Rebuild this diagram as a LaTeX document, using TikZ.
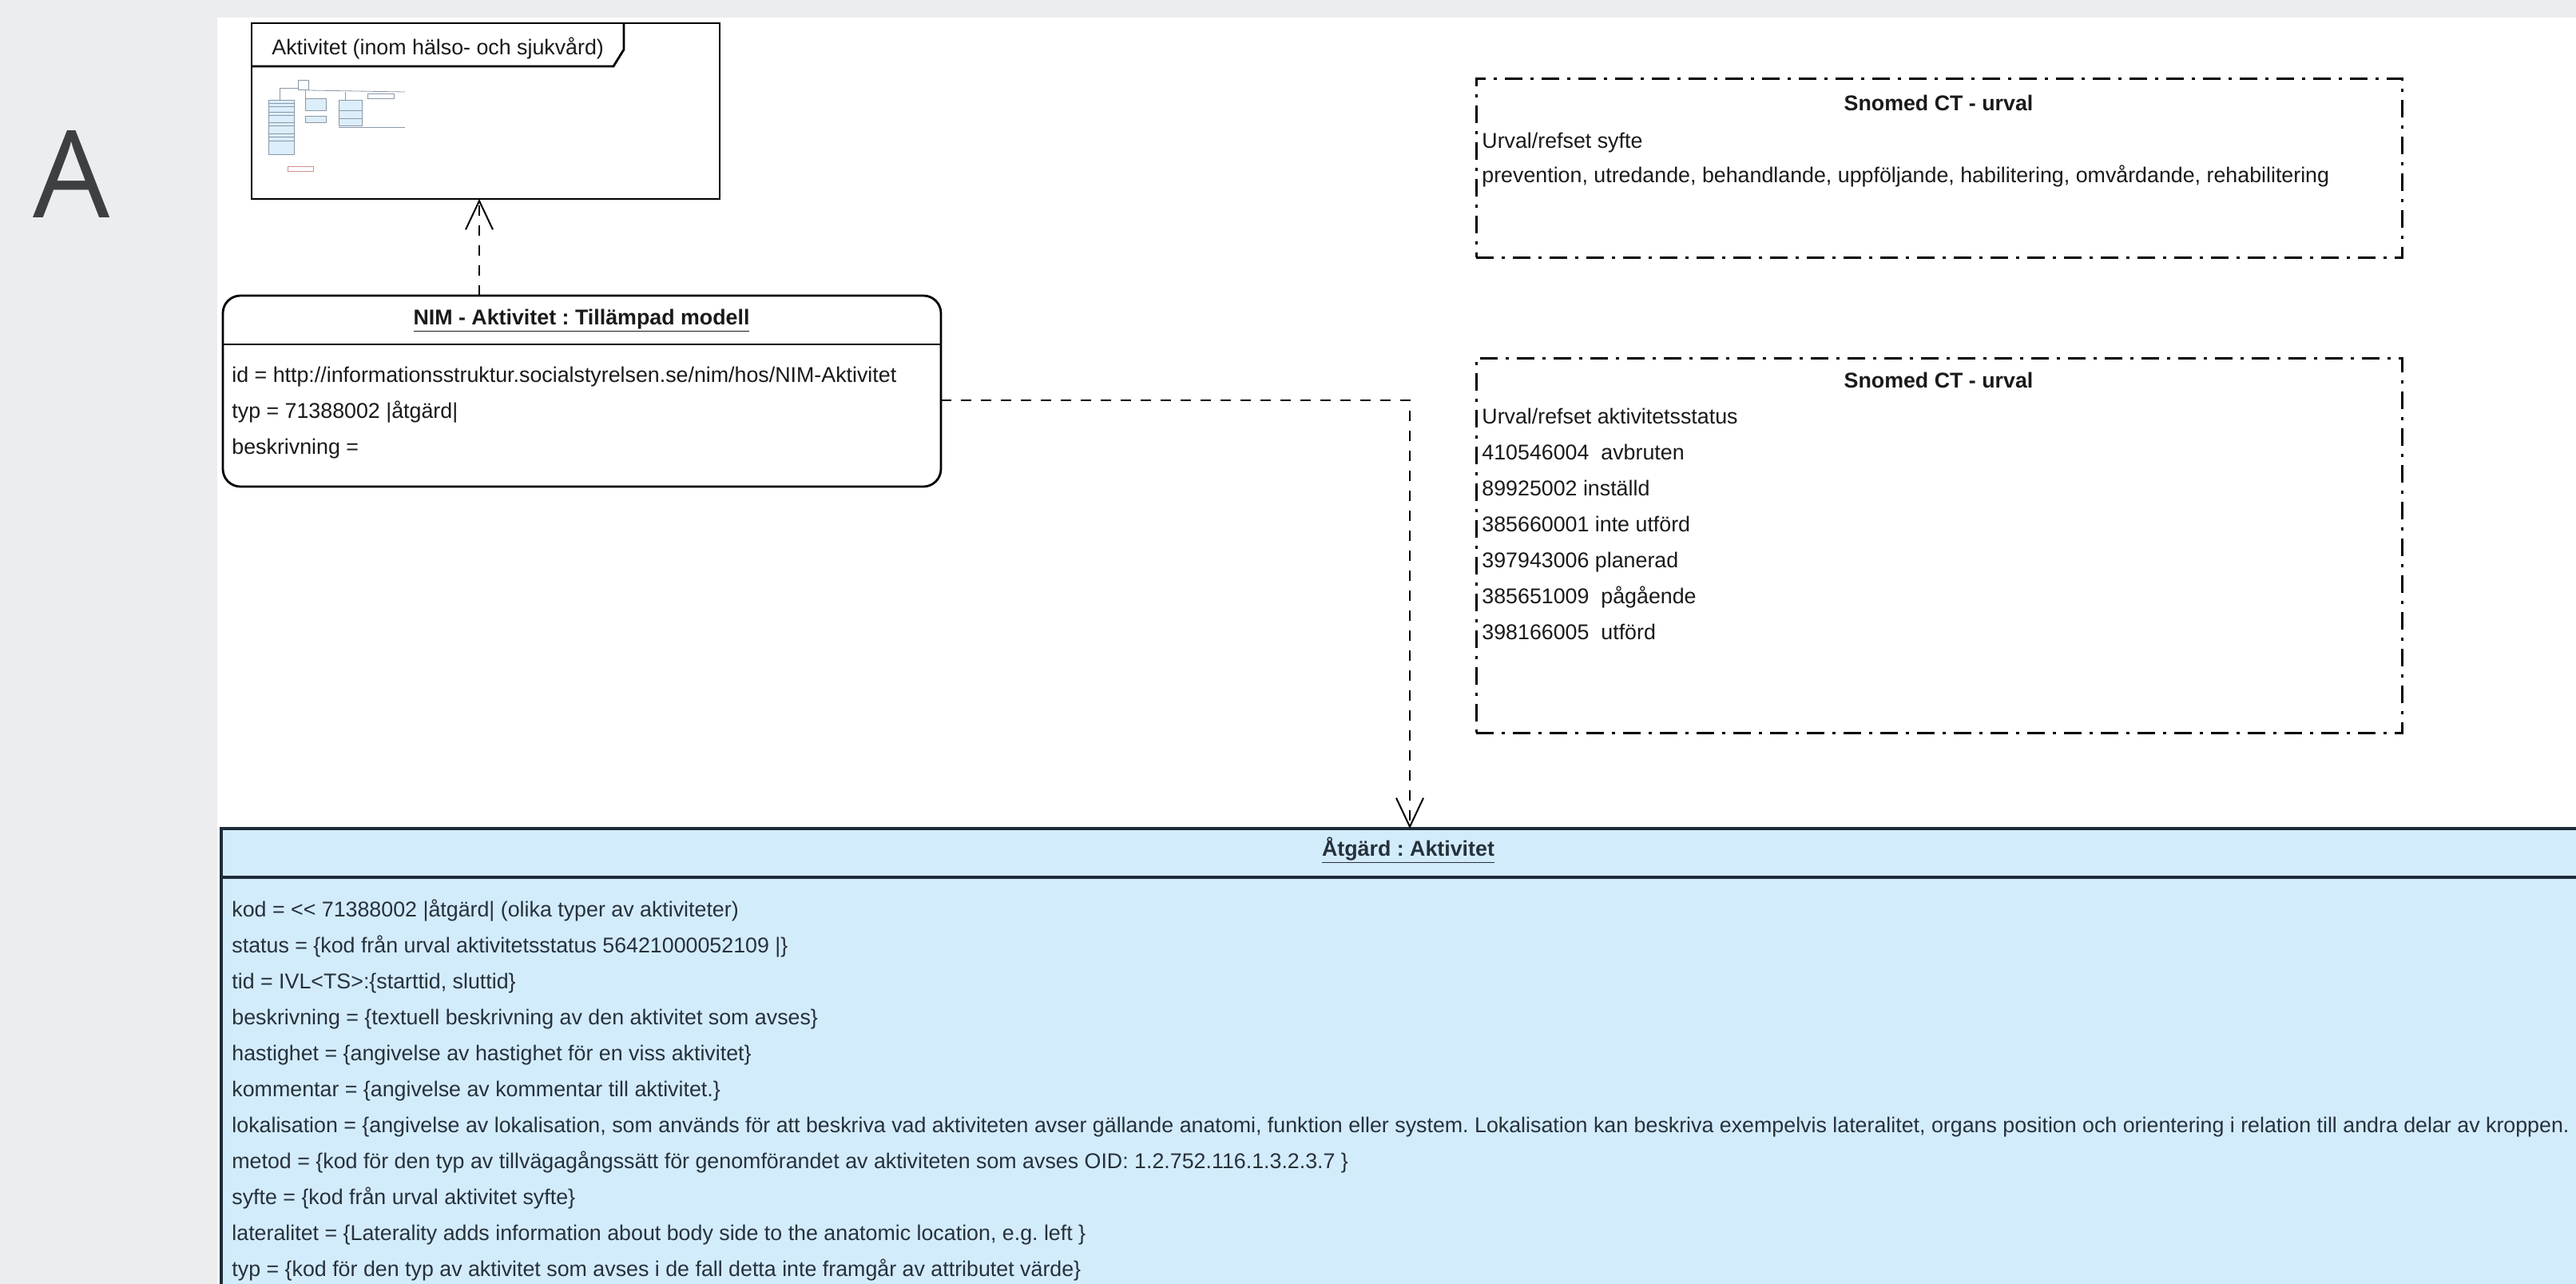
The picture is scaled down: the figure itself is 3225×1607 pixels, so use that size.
\documentclass[tikz,border=0pt]{standalone}
\usepackage{fontspec}
\setmainfont{Liberation Sans}
\newfontfamily\bigAfont{Open Sans}
\usetikzlibrary{arrows.meta}
\definecolor{bggray}{HTML}{ECEDEF}
\definecolor{atgfill}{HTML}{D3ECFB}
\definecolor{atgline}{HTML}{1E2B38}
\definecolor{txtc}{HTML}{1A1A1A}
\definecolor{atgtxt}{HTML}{27313C}
\definecolor{letterc}{HTML}{3C4043}
\definecolor{thumbc}{HTML}{8A97A8}
\definecolor{thumbfill}{HTML}{DCEEFA}
\definecolor{thumbred}{HTML}{D39090}
\tikzset{
 boxbase/.style={draw, inner sep=0pt, outer sep=0pt, anchor=north west},
 pkgbox/.style={boxbase, line width=1.4pt, fill=white},
 nimbox/.style={boxbase, line width=1.4pt, rounded corners=11pt, fill=white},
 atgbox/.style={boxbase, draw=atgline, line width=1.8pt, fill=atgfill},
 snbox/.style={boxbase, line width=1.5pt, dash pattern=on 11pt off 5pt on 2pt off 5pt},
 txt/.style={font=\fontsize{13.4}{16}\selectfont\frenchspacing, text=txtc, inner sep=0pt, anchor=base west},
 atxt/.style={txt, text=atgtxt},
 ttl/.style={font=\fontsize{13.4}{16}\selectfont\bfseries\frenchspacing, text=txtc, inner sep=0pt, anchor=base},
 dep/.style={line width=1.2pt, dash pattern=on 6.5pt off 6pt, -{Straight Barb[length=18pt,width=17pt,line width=1pt]}},
 thumb/.style={draw=thumbc, line width=0.4pt},
}
\begin{document}
\frenchspacing
\begin{tikzpicture}[x=0.5pt,y=-0.5pt]
\useasboundingbox (0,0) rectangle (3225,1607);
\clip (0,0) rectangle (3225,1607);
\fill[bggray] (0,0) rectangle (3225,1607);
\fill[white] (272,22) rectangle (3225,1607);

\node[font=\bigAfont\fontsize{76}{80}\selectfont, text=letterc, anchor=base, inner sep=0pt] (lettera) at (90,272) {A};

% package frame
\node[pkgbox, minimum width=293pt, minimum height=110pt] (pkg) at (315,29) {};
\draw[line width=1.4pt] (pkg.west |- 0,83) -- (768,83) -- (781,62) -- (781,29);
\node[txt] (pkgtitle) at (340,68) {Aktivitet (inom hälso- och sjukvård)};
\begin{scope}[thumb]
\draw (350,110) -- (373,110);
\draw[fill=white] (373,100) rectangle (386,112);
\draw (386,113) -- (507,115);
\draw (350,110) -- (350,125);
\draw[fill=thumbfill] (336,125) rectangle (368,193);
\foreach \yy in {129,133,140,144,153,157,167,171,176} \draw (336,\yy) -- (368,\yy);
\draw (382,113) -- (382,123);
\draw[fill=thumbfill] (382,123) rectangle (408,138);
\draw[fill=thumbfill] (382,145) rectangle (408,153);
\draw (432,115) -- (432,125);
\draw[fill=thumbfill] (424,125) rectangle (453,157);
\draw (424,138) -- (453,138);
\draw (424,148) -- (453,148);
\draw (424,159) -- (507,159);
\draw (460,117) rectangle (493,123);
\draw[draw=thumbred] (360,208) rectangle (392,214);
\end{scope}

% NIM box
\node[nimbox, minimum width=449.5pt, minimum height=119.5pt] (nim) at (279,370) {};
\coordinate (nimsep) at (0,431);
\draw[line width=1.4pt] (nim.west |- nimsep) -- (nim.east |- nimsep);
\node[ttl] (nimtitle) at (728,406) {\underline{NIM - Aktivitet : Tillämpad modell}};
\node[txt] (nimid) at (290,478) {id = http://informationsstruktur.socialstyrelsen.se/nim/hos/NIM-Aktivitet};
\node[txt] (nimtyp) at (290,523) {typ = 71388002 |åtgärd|};
\node[txt] (nimbesk) at (290,568) {beskrivning =};

% Snomed 1
\node[snbox, minimum width=579.5pt, minimum height=112pt] (sn1) at (1848,98) {};
\node[ttl] (sn1title) at (2427,138) {Snomed CT - urval};
\node[txt] (sn1a) at (1855,185) {Urval/refset syfte};
\node[txt] (sn1b) at (1855,228) {prevention, utredande, behandlande, uppföljande, habilitering, omvårdande, rehabilitering};

% Snomed 2
\node[snbox, minimum width=579.5pt, minimum height=234.5pt] (sn2) at (1848,448) {};
\node[ttl] (sn2title) at (2427,485) {Snomed CT - urval};
\node[txt] (sn2a) at (1855,530) {Urval/refset aktivitetsstatus};
\node[txt] (sn2b) at (1855,575) {410546004\ \ avbruten};
\node[txt] (sn2c) at (1855,620) {89925002 inställd};
\node[txt] (sn2d) at (1855,665) {385660001 inte utförd};
\node[txt] (sn2e) at (1855,710) {397943006 planerad};
\node[txt] (sn2f) at (1855,755) {385651009\ \ pågående};
\node[txt] (sn2g) at (1855,800) {398166005\ \ utförd};

% Atgard box
\node[atgbox, minimum width=1486pt, minimum height=350pt] (atg) at (277,1037) {};
\coordinate (atgsep) at (0,1098);
\draw[atgline, line width=1.8pt] (atg.west |- atgsep) -- (atg.east |- atgsep);
\node[ttl, text=atgtxt] (atgtitle) at (1763,1071) {\underline{Åtgärd : Aktivitet}};
\node[atxt] (a1) at (290,1147) {kod = <{}< 71388002 |åtgärd| (olika typer av aktiviteter)};
\node[atxt] (a2) at (290,1192) {status = \{kod från urval aktivitetsstatus 56421000052109 |\}};
\node[atxt] (a3) at (290,1237) {tid = IVL<TS>:\{starttid, sluttid\}};
\node[atxt] (a4) at (290,1282) {beskrivning = \{textuell beskrivning av den aktivitet som avses\}};
\node[atxt] (a5) at (290,1327) {hastighet = \{angivelse av hastighet för en viss aktivitet\}};
\node[atxt] (a6) at (290,1372) {kommentar = \{angivelse av kommentar till aktivitet.\}};
\node[atxt] (a7) at (290,1417) {lokalisation = \{angivelse av lokalisation, som används för att beskriva vad aktiviteten avser gällande anatomi, funktion eller system. Lokalisation kan beskriva exempelvis lateralitet, organs position och orientering i relation till andra delar av kroppen.};
\node[atxt] (a8) at (290,1462) {metod = \{kod för den typ av tillvägagångssätt för genomförandet av aktiviteten som avses OID: 1.2.752.116.1.3.2.3.7 \}};
\node[atxt] (a9) at (290,1507) {syfte = \{kod från urval aktivitet syfte\}};
\node[atxt] (a10) at (290,1552) {lateralitet = \{Laterality adds information about body side to the anatomic location, e.g. left \}};
\node[atxt] (a11) at (290,1597) {typ = \{kod för den typ av aktivitet som avses i de fall detta inte framgår av attributet värde\}};

% connectors
\coordinate (pkgax) at (600,0);
\draw[dep] (nim.north -| pkgax) -- (pkg.south -| pkgax);
\coordinate (bend) at (1765,501);
\draw[dep] (nim.east |- bend) -| (atg.north -| bend);
\end{tikzpicture}
\end{document}
